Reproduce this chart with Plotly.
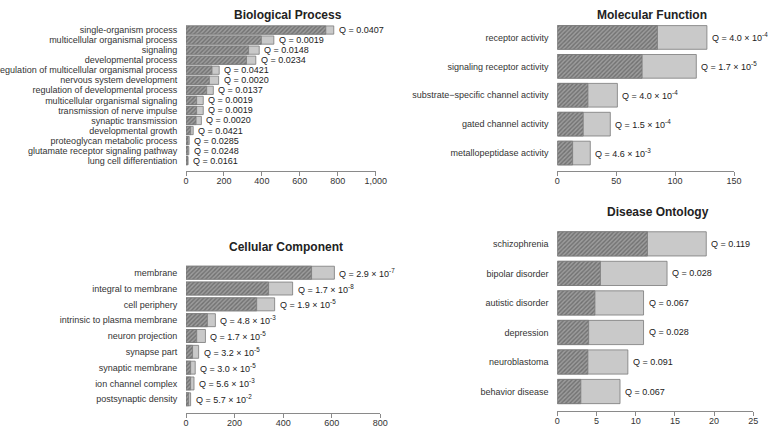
import plotly.graph_objects as go

# --- data ---
bp_terms = ["single-organism process", "multicellular organismal process", "signaling",
            "developmental process", "regulation of multicellular organismal process",
            "nervous system development", "regulation of developmental process",
            "multicellular organismal signaling", "transmission of nerve impulse",
            "synaptic transmission", "developmental growth", "proteoglycan metabolic process",
            "glutamate receptor signaling pathway", "lung cell differentiation"]
bp_total = [779, 463, 386, 368, 175, 172, 144, 91, 91, 81, 38, 17, 15, 11]
bp_hit = [737, 397, 330, 319, 137, 123, 109, 56, 56, 53, 25, 11, 10, 8]
bp_q = ["0.0407", "0.0019", "0.0148", "0.0234", "0.0421", "0.0020", "0.0137",
        "0.0019", "0.0019", "0.0020", "0.0421", "0.0285", "0.0248", "0.0161"]

mf_terms = ["receptor activity", "signaling receptor activity",
            "substrate\u2212specific channel activity", "gated channel activity",
            "metallopeptidase activity"]
mf_total = [127, 118, 51, 45, 28]
mf_hit = [85, 72, 26, 22, 13]
mf_q = [("4.0", "-4"), ("1.7", "-5"), ("4.0", "-4"), ("1.5", "-4"), ("4.6", "-3")]

cc_terms = ["membrane", "integral to membrane", "cell periphery", "intrinsic to plasma membrane",
            "neuron projection", "synapse part", "synaptic membrane", "ion channel complex",
            "postsynaptic density"]
cc_total = [611, 439, 365, 121, 80, 52, 38, 33, 19]
cc_hit = [517, 340, 291, 88, 44, 27, 19, 19, 11]
cc_q = [("2.9", "-7"), ("1.7", "-8"), ("1.9", "-5"), ("4.8", "-3"), ("1.7", "-5"),
        ("3.2", "-5"), ("3.0", "-5"), ("5.6", "-3"), ("5.7", "-2")]

do_terms = ["schizophrenia", "bipolar disorder", "autistic disorder", "depression",
            "neuroblastoma", "behavior disease"]
do_total = [19, 14, 11, 11, 9, 8]
do_hit = [11.5, 5.5, 4.8, 4, 3.9, 3]
do_q = ["0.119", "0.028", "0.067", "0.028", "0.091", "0.067"]

titles = ["Biological Process", "Molecular Function", "Cellular Component", "Disease Ontology"]

FONT = "Liberation Sans, Arial, sans-serif"
W, H = 768, 427


def px_x(p):
    return p / W


def px_y(p):
    return 1 - p / H


def sci(q):
    return "Q = %s \u00d7 10<sup>%s</sup>" % q


panels = [
    # terms, total, hit, labels, xdomain(px), ydomain(px top,bottom), axis y(px), range, ticks, title pos
    (bp_terms, bp_total, bp_hit, ["Q = " + q for q in bp_q], (186, 375.7), (25, 165.7), 170.7,
     1000, [0, 200, 400, 600, 800, 1000], ["0", "200", "400", "600", "800", "1,000"], (288, 15)),
    (mf_terms, mf_total, mf_hit, [sci(q) for q in mf_q], (557.3, 734), (23, 167.5), 170.7,
     150, [0, 50, 100, 150], None, (651.5, 15)),
    (cc_terms, cc_total, cc_hit, [sci(q) for q in cc_q], (186, 380.3), (264.8, 407.2), 412.7,
     800, [0, 200, 400, 600, 800], None, (286.3, 246.7)),
    (do_terms, do_total, do_hit, ["Q = " + q for q in do_q], (557.3, 753.3), (229.1, 406.3), 411,
     25, [0, 5, 10, 15, 20, 25], None, (657.7, 212.3)),
]

fig = go.Figure()
annotations = []

for i, (terms, total, hit, qlab, xd, yd, axy, xmax, tv, tt, tpos) in enumerate(panels):
    sfx = "" if i == 0 else str(i + 1)
    xa, ya = "x" + sfx, "y" + sfx
    fig.add_trace(go.Bar(
        y=terms, x=total, orientation="h", xaxis=xa, yaxis=ya, width=0.82,
        marker=dict(color="#c9c9c9", line=dict(color="#7a7a7a", width=0.8)),
        showlegend=False, hoverinfo="x+y"))
    fig.add_trace(go.Bar(
        y=terms, x=hit, orientation="h", xaxis=xa, yaxis=ya, width=0.82,
        marker=dict(color="#8a8a8a",
                    pattern=dict(shape="/", fgcolor="#454545", bgcolor="#9c9c9c",
                                 size=3, solidity=0.45),
                    line=dict(color="#7a7a7a", width=0.8)),
        showlegend=False, hoverinfo="x+y"))

    n = len(terms)
    fig.layout["xaxis" + sfx] = dict(
        domain=[px_x(xd[0]), px_x(xd[1])], range=[0, xmax], anchor="free",
        position=px_y(axy), showline=True, linecolor="#8a8a8a", linewidth=1,
        ticks="outside", ticklen=4, tickcolor="#8a8a8a", tickvals=tv,
        ticktext=tt if tt else [str(v) for v in tv], ticklabelstandoff=-3,
        tickfont=dict(size=9, color="#333", family=FONT), automargin=False,
        showgrid=False, zeroline=False, fixedrange=True)
    fig.layout["yaxis" + sfx] = dict(
        domain=[px_y(yd[1]), px_y(yd[0])], anchor=xa, type="category",
        categoryorder="array", categoryarray=terms, range=[n - 0.5, -0.5],
        tickmode="array", tickvals=terms, ticktext=terms, automargin=False,
        showline=False, ticks="outside", ticklen=6, tickcolor="rgba(0,0,0,0)",
        tickfont=dict(size=9, color="#333", family=FONT),
        showgrid=False, zeroline=False, fixedrange=True)

    for t, v, lab in zip(terms, total, qlab):
        annotations.append(dict(
            x=v, y=t, xref=xa, yref=ya, text=lab, showarrow=False,
            xanchor="left", yanchor="middle", xshift=3,
            font=dict(size=9, color="#222", family=FONT)))

    annotations.append(dict(
        x=px_x(tpos[0]), y=px_y(tpos[1]), xref="paper", yref="paper",
        text="<b>" + titles[i] + "</b>", showarrow=False,
        xanchor="center", yanchor="middle",
        font=dict(size=12, color="#222", family=FONT)))

fig.update_layout(
    width=W, height=H, margin=dict(l=0, r=0, t=0, b=0, autoexpand=False),
    barmode="overlay", bargap=0.18,
    paper_bgcolor="white", plot_bgcolor="white",
    annotations=annotations,
    font=dict(family=FONT, size=9, color="#333"),
)

# drop the browser's default 8px body margin so the figure sits at the window corner
fig.write_html("out.html", config={"displayModeBar": False},
               post_script="document.body.style.margin='0';")
